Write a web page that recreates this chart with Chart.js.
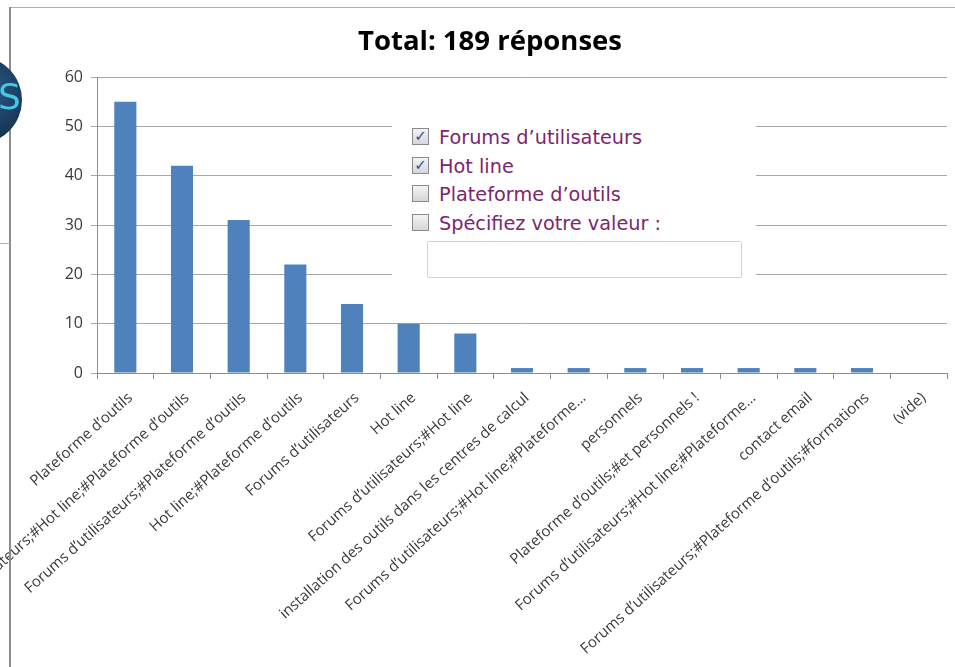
<!DOCTYPE html>
<html>
<head>
<meta charset="utf-8">
<script src="https://cdn.jsdelivr.net/npm/chart.js@4.4.0/dist/chart.umd.min.js"></script>
<style>
  body { margin: 0; background: #fff; overflow: hidden; }
  #wrap { position: relative; width: 955px; height: 667px; }
  #frameTop { position: absolute; left: 10px; top: 7px; width: 945px; height: 1px; background: #b0b0b0; }
  #frameLeft { position: absolute; left: 9px; top: 7px; width: 2px; height: 660px; background: #8c8c8c; }
  #stub { position: absolute; left: 0; top: 243px; width: 10px; height: 1px; background: #b0b0b0; }
  #logo { position: absolute; left: -66px; top: 56px; width: 88px; height: 88px; border-radius: 50%;
    background: radial-gradient(circle at 60% 40%, #2c5a86, #12304f 70%); overflow: hidden; }
  #logo span { position: absolute; left: 64px; top: 20px; font: 36px "DejaVu Sans"; color: #48c6e0; }
  #panel { position: absolute; left: 392px; top: 114px; width: 364px; height: 176px; background: #fff;
    font-family: "DejaVu Sans", sans-serif; font-size: 19.3px; color: #7d2670; }
  .row { position: absolute; left: 20px; height: 24px; line-height: 24px; white-space: nowrap; }
  .box { display: inline-block; width: 15px; height: 15px; border: 1px solid #8a8a8a; vertical-align: middle;
    background: linear-gradient(#f4f4f4, #d6d6d6); margin-right: 10px; position: relative; top: -2px;
    font-size: 15px; line-height: 15px; text-align: center; color: #2c4fa0; font-weight: bold; }
  #field { position: absolute; left: 35px; top: 127px; width: 313px; height: 35px; border: 1px solid #d4d4d4; border-radius: 2px; }
</style>
</head>
<body>
<div id="wrap">
  <canvas id="Chart" width="955" height="667"></canvas>
  <div id="frameTop"></div>
  <div id="frameLeft"></div>
  <div id="stub"></div>
  <div id="logo"><span>S</span></div>
  <div id="panel">
    <div class="row" style="top:12px"><span class="box">✓</span>Forums d’utilisateurs</div>
    <div class="row" style="top:41px"><span class="box">✓</span>Hot line</div>
    <div class="row" style="top:69px"><span class="box"></span>Plateforme d’outils</div>
    <div class="row" style="top:98px"><span class="box"></span>Spécifiez votre valeur :</div>
    <div id="field"></div>
  </div>
</div>
<script>
var chartTitle = 'Total: 189 réponses';
var categories = [
  'Plateforme d’outils',
  'Forums d’utilisateurs;#Hot line;#Plateforme d’outils',
  'Forums d’utilisateurs;#Plateforme d’outils',
  'Hot line;#Plateforme d’outils',
  'Forums d’utilisateurs',
  'Hot line',
  'Forums d’utilisateurs;#Hot line',
  'installation des outils dans les centres de calcul',
  'Forums d’utilisateurs;#Hot line;#Plateforme…',
  'personnels',
  'Plateforme d’outils;#et personnels !',
  'Forums d’utilisateurs;#Hot line;#Plateforme…',
  'contact email',
  'Forums d’utilisateurs;#Plateforme d’outils;#formations',
  '(vide)'
];
var responses = [55, 42, 31, 22, 14, 10, 8, 1, 1, 1, 1, 1, 1, 1, 0];
var yTicks = [0, 10, 20, 30, 40, 50, 60];

// title sits a bit right of the canvas centre in the original
var titlePlugin = {
  id: 'titleText',
  afterDraw: function (chart) {
    var c = chart.ctx;
    c.save();
    c.font = 'bold 27.5px "Open Sans"';
    c.fillStyle = '#000';
    c.textAlign = 'center';
    c.textBaseline = 'alphabetic';
    c.fillText(chartTitle, 490, 50);
    c.restore();
  }
};

var ctx = document.getElementById('Chart').getContext('2d');
var myChart = new Chart(ctx, {
  type: 'bar',
  data: {
    labels: categories,
    datasets: [{
      label: 'Réponses',
      data: responses,
      backgroundColor: '#4F81BD',
      borderWidth: 0,
      categoryPercentage: 1,
      barPercentage: 0.39
    }]
  },
  plugins: [titlePlugin],
  options: {
    responsive: false,
    animation: false,
    layout: { padding: { left: 10, right: 8, top: 77, bottom: 0 } },
    plugins: {
      legend: { display: false },
      tooltip: { enabled: false },
      title: { display: false }
    },
    scales: {
      x: {
        grid: { display: true, drawOnChartArea: false, drawTicks: true, tickLength: 6, color: '#8c8c8c', offset: true },
        border: { color: '#8c8c8c' },
        ticks: {
          autoSkip: false, maxRotation: 42, minRotation: 42, padding: 10, labelOffset: 5,
          color: '#3a3a3a', font: { family: 'Open Sans', size: 15 }
        },
        afterFit: function (scale) {
          scale.height = 294;
          scale.paddingLeft = 0;
          scale.paddingRight = 0;
        }
      },
      y: {
        min: 0, max: 60,
        afterBuildTicks: function (scale) {
          scale.ticks = yTicks.map(function (v) { return { value: v }; });
        },
        grid: { color: '#a6a6a6', tickLength: 6 },
        border: { color: '#8c8c8c' },
        ticks: { padding: 8, color: '#3a3a3a', font: { family: 'Open Sans', size: 16 } },
        afterFit: function (scale) {
          scale.width = 87;
        }
      }
    }
  }
});
</script>
</body>
</html>
